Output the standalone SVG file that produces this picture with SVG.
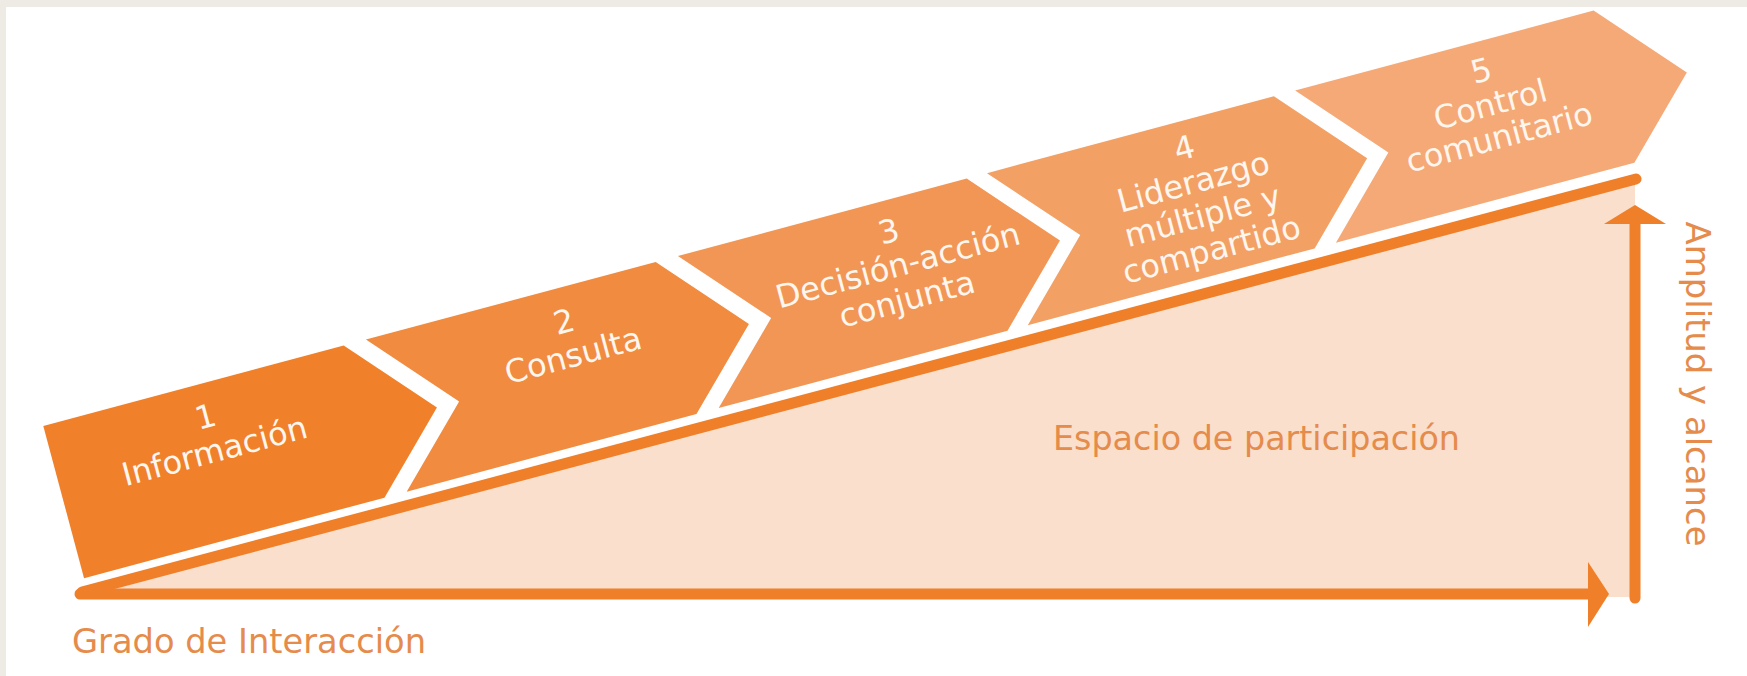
<svg xmlns="http://www.w3.org/2000/svg" width="1747" height="676" viewBox="0 0 1747 676">
<style>
.lbl{font-family:"DejaVu Sans",Verdana,sans-serif;font-size:32px;fill:#fff6ee;text-anchor:middle}
.ax{font-family:"DejaVu Sans",Verdana,sans-serif;font-size:33.5px;fill:#e58b4b}
.ln{stroke:#f07f2a;stroke-width:11;stroke-linecap:round;fill:none}
.head{fill:#f07f2a}
</style>
<rect width="1747" height="676" fill="#eeebe4"/>
<rect x="6" y="7" width="1741" height="669" fill="#ffffff"/>
<g id="espacio">
<polygon points="85,596 1635,180 1635,597" fill="#f9dfcc"/>
<text class="ax" x="1053" y="450" textLength="407" lengthAdjust="spacingAndGlyphs">Espacio de participación</text>
</g>
<g id="connectors">
<line class="ln" x1="82" y1="592" x2="1636" y2="179"/>
<line class="ln" x1="80" y1="594" x2="1590" y2="594"/>
<polygon class="head" points="1588,562 1609,594 1588,627"/>
<line class="ln" x1="1635" y1="598" x2="1635" y2="222"/>
<polygon class="head" points="1604,224 1635,205 1666,224"/>
</g>
<g id="grado">
<text class="ax" x="72" y="653" textLength="354" lengthAdjust="spacingAndGlyphs">Grado de Interacción</text>
</g>
<g id="amplitud">
<text class="ax" transform="translate(1686,384) rotate(90)" x="0" y="0" text-anchor="middle" textLength="325" lengthAdjust="spacingAndGlyphs">Amplitud y alcance</text>
</g>
<g transform="translate(43.3,426) rotate(-15)">
<g id="step1">
<polygon points="0,0 311,0 385,84 311,157.5 0,157.5" fill="#f0802a"/>
<text class="lbl"><tspan x="159" y="44">1</tspan><tspan x="159" y="79.5">Información</tspan></text>
</g>
<g id="step2">
<polygon points="334,0 634,0 708,84 634,157.5 334,157.5 408,84" fill="#f18b40"/>
<text class="lbl"><tspan x="530" y="45">2</tspan><tspan x="530" y="80">Consulta</tspan></text>
</g>
<g id="step3">
<polygon points="657,0 956,0 1030,84 956,157.5 657,157.5 731,84" fill="#f29655"/>
<text class="lbl"><tspan x="867" y="42">3</tspan><tspan x="867" y="77">Decisión-acción</tspan><tspan x="867" y="112">conjunta</tspan></text>
</g>
<g id="step4">
<polygon points="977,0 1274,0 1348,84 1274,157.5 977,157.5 1051,84" fill="#f3a065"/>
<text class="lbl"><tspan x="1174" y="38">4</tspan><tspan x="1174" y="73">Liderazgo</tspan><tspan x="1174" y="108">múltiple y</tspan><tspan x="1174" y="143">compartido</tspan></text>
</g>
<g id="step5">
<polygon points="1296,0 1605,0 1679,84 1605,157.5 1296,157.5 1370,84" fill="#f5a976"/>
<text class="lbl"><tspan x="1481" y="40">5</tspan><tspan x="1481" y="75">Control</tspan><tspan x="1481" y="109">comunitario</tspan></text>
</g>
</g>
</svg>
